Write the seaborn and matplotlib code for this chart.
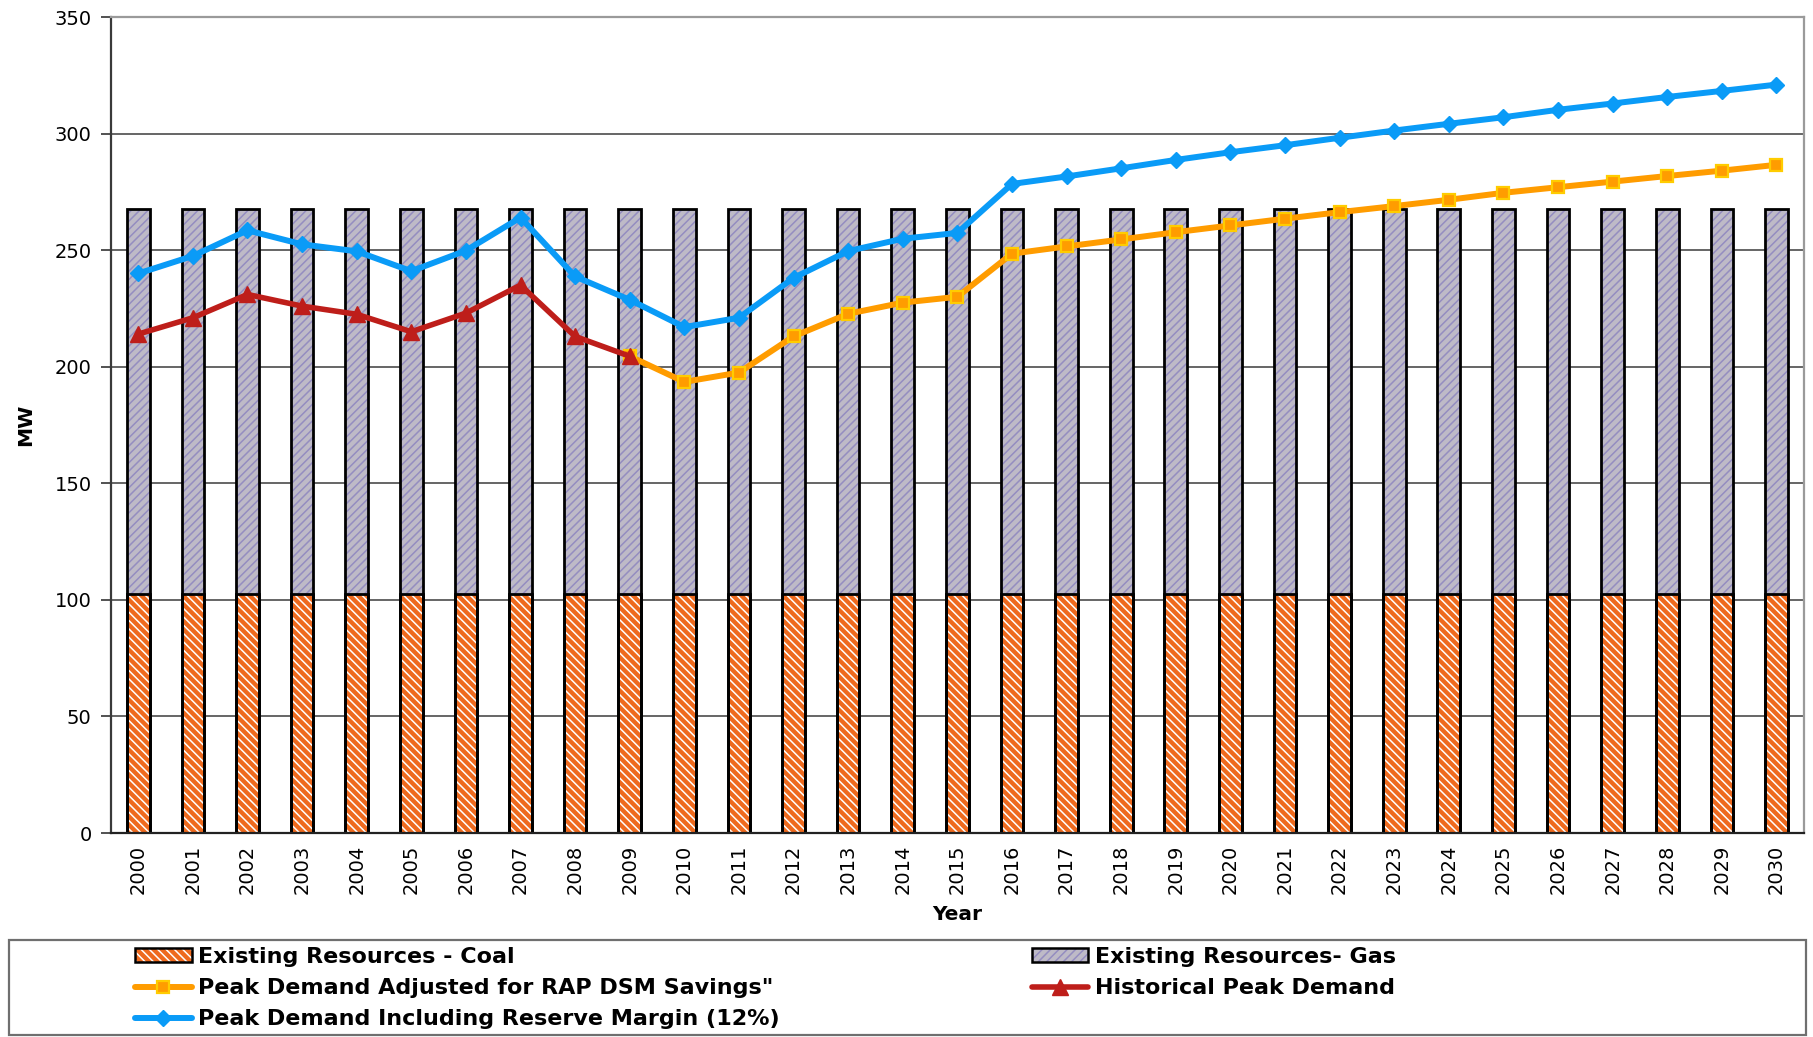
import matplotlib
matplotlib.use("Agg")
import matplotlib.pyplot as plt
import seaborn as sns
import pandas as pd
from matplotlib.patches import Patch, Rectangle
from matplotlib.lines import Line2D
from matplotlib.legend_handler import HandlerTuple

# ---- data (MW) ----
years = ["2000", "2001", "2002", "2003", "2004", "2005", "2006", "2007", "2008", "2009",
         "2010", "2011", "2012", "2013", "2014", "2015", "2016", "2017", "2018", "2019",
         "2020", "2021", "2022", "2023", "2024", "2025", "2026", "2027", "2028", "2029", "2030"]
coal = [102.5] * 31
gas = [165.0] * 31

historical_years = ["2000", "2001", "2002", "2003", "2004", "2005", "2006", "2007", "2008", "2009"]
historical = [214.0, 221.0, 231.0, 226.0, 222.5, 215.0, 223.0, 235.0, 213.0, 204.5]

adjusted_years = ["2009", "2010", "2011", "2012", "2013", "2014", "2015", "2016", "2017", "2018",
                  "2019", "2020", "2021", "2022", "2023", "2024", "2025", "2026", "2027", "2028",
                  "2029", "2030"]
adjusted = [204.5, 193.5, 197.5, 213.0, 222.7, 227.5, 230.0, 248.5, 251.6, 254.6,
            257.7, 260.6, 263.5, 266.3, 268.9, 271.6, 274.6, 277.0, 279.4, 281.8,
            284.1, 286.6]

reserve = [240.0, 247.5, 258.5, 252.5, 249.5, 241.0, 249.8, 264.0, 238.7, 228.7,
           217.0, 221.0, 238.1, 249.6, 254.9, 257.4, 278.4, 281.6, 285.1, 288.7,
           292.0, 295.0, 298.2, 301.3, 304.2, 307.0, 310.2, 312.9, 315.7, 318.3, 321.0]

yticks = [0, 50, 100, 150, 200, 250, 300, 350]

labels = {
    "coal": "Existing Resources - Coal",
    "gas": "Existing Resources- Gas",
    "adj": "Peak Demand Adjusted for RAP DSM Savings\"",
    "hist": "Historical Peak Demand",
    "res": "Peak Demand Including Reserve Margin (12%)",
}

# ---- styling ----
COAL = "#EE6A1E"
GAS_FACE = "#BEBAC7"
GAS_HATCH = "#948DC0"
ORANGE = "#FF9C00"
ORANGE_EDGE = "#FFCC00"
RED = "#BE1E1A"
BLUE = "#0A9BF7"
BAR_W = 0.415
COAL_PAT = "\\\\\\\\"
GAS_PAT = "////"

sns.set_theme(style="white")
plt.rcParams["font.family"] = ["DejaVu Sans"]
plt.rcParams["hatch.linewidth"] = 1.1
for key in ["text.color", "axes.labelcolor", "xtick.color", "ytick.color"]:
    plt.rcParams[key] = "black"

fig = plt.figure(figsize=(18.13, 10.37), dpi=100)
ax = fig.add_axes([0.0612, 0.1967, 0.9337, 0.7869])

pos = {y: i for i, y in enumerate(years)}
bars = pd.DataFrame({"year": years, "coal": coal, "gas": gas})
bars["total"] = [c + g for c, g in zip(coal, gas)]


def hatched_bars(col, face, hatch, hcolor):
    sns.barplot(data=bars, x="year", y=col, order=years, color=face,
                saturation=1, width=BAR_W, errorbar=None, ax=ax,
                edgecolor=hcolor, linewidth=0)
    for p in ax.containers[-1]:
        p.set_hatch(hatch)
        p.set_facecolor(face)
        p.set_edgecolor(hcolor)
        if hasattr(p, "set_hatchcolor"):
            p.set_hatchcolor(hcolor)


# gas stacked on coal: draw full height in gas style, then coal over the lower part
hatched_bars("total", GAS_FACE, GAS_PAT, GAS_HATCH)
hatched_bars("coal", COAL, COAL_PAT, "white")
for col in ["total", "coal"]:
    sns.barplot(data=bars, x="year", y=col, order=years, fill=False, color="black",
                width=BAR_W, errorbar=None, ax=ax, linewidth=2.0)

# demand lines
sns.lineplot(x=[pos[y] for y in adjusted_years], y=adjusted, ax=ax, color=ORANGE,
             linewidth=4.3, marker="s", markersize=9, markerfacecolor=ORANGE,
             markeredgecolor=ORANGE_EDGE, markeredgewidth=1.6, zorder=3)
sns.lineplot(x=[pos[y] for y in historical_years], y=historical, ax=ax, color=RED,
             linewidth=4.0, marker="^", markersize=11, markerfacecolor=RED,
             markeredgecolor=RED, markeredgewidth=1, zorder=4)
sns.lineplot(x=[pos[y] for y in years], y=reserve, ax=ax, color=BLUE,
             linewidth=4.3, marker="D", markersize=8, markerfacecolor=BLUE,
             markeredgecolor=BLUE, markeredgewidth=1, zorder=5)

# axes
ax.set_xlim(-0.5, len(years) - 0.5)
ax.set_ylim(0, 350)
ax.set_yticks(yticks)
ax.set_yticklabels([str(v) for v in yticks], fontsize=14)
ax.set_xticks(range(len(years)))
ax.set_xticklabels(years, rotation=90, fontsize=14)
ax.set_xticks([i - 0.5 for i in range(len(years) + 1)], minor=True)
ax.tick_params(axis="x", which="major", length=0, pad=8.5, colors="black")
ax.tick_params(axis="x", which="minor", length=6, width=1.2, color="#333333", direction="out")
ax.tick_params(axis="y", length=7, width=1.2, color="#333333", direction="out", pad=7,
               left=True, labelcolor="black")
ax.set_axisbelow(True)
ax.yaxis.grid(True, color="#3c3c3c", linewidth=1.1)
ax.xaxis.grid(False)

for side, c in [("left", "#3a3a3a"), ("bottom", "#222222"), ("top", "#9a9a9a"), ("right", "#9a9a9a")]:
    ax.spines[side].set_visible(True)
    ax.spines[side].set_color(c)
    ax.spines[side].set_linewidth(1.6)

ax.set_xlabel("Year", fontsize=14.5, fontweight="bold", labelpad=8)
ax.set_ylabel("MW", fontsize=14.5, fontweight="bold", labelpad=14)

# legend frame across the bottom
fig.patches.append(Rectangle((0.005, 0.002), 0.991, 0.0915, transform=fig.transFigure,
                             fill=False, edgecolor="#6f6f6f", linewidth=1.6))


def bar_handle(face, hatch, hcolor):
    p = Patch(facecolor=face, edgecolor=hcolor, linewidth=0, hatch=hatch)
    if hasattr(p, "set_hatchcolor"):
        p.set_hatchcolor(hcolor)
    return (p, Patch(fill=False, edgecolor="black", linewidth=1.8))


h_coal = bar_handle(COAL, COAL_PAT, "white")
h_gas = bar_handle(GAS_FACE, GAS_PAT, GAS_HATCH)
h_adj = Line2D([], [], color=ORANGE, lw=4.3, marker="s", ms=9, mfc=ORANGE, mec=ORANGE_EDGE, mew=1.6)
h_hist = Line2D([], [], color=RED, lw=4.0, marker="^", ms=11, mfc=RED, mec=RED)
h_res = Line2D([], [], color=BLUE, lw=4.3, marker="D", ms=8, mfc=BLUE, mec=BLUE)

leg_kw = dict(loc="upper left", frameon=False, prop={"weight": "bold", "size": 16},
              handlelength=2.55, handleheight=0.6, handletextpad=0.3, labelspacing=0.5,
              borderpad=0, borderaxespad=0,
              handler_map={tuple: HandlerTuple(ndivide=1, pad=0)})
leg1 = fig.legend([h_coal, h_adj, h_res], [labels["coal"], labels["adj"], labels["res"]],
                  bbox_to_anchor=(0.0745, 0.0868), **leg_kw)
leg2 = fig.legend([h_gas, h_hist], [labels["gas"], labels["hist"]],
                  bbox_to_anchor=(0.569, 0.0868), **leg_kw)

fig.savefig("out.png", dpi=100)
